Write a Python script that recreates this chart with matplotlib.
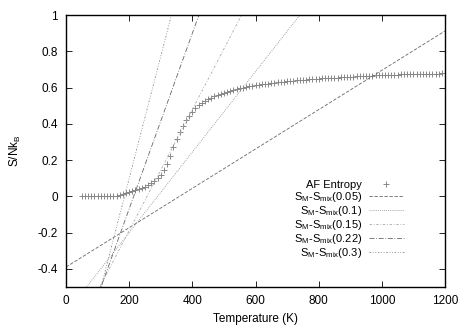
import numpy as np
import matplotlib
matplotlib.use("Agg")
import matplotlib.pyplot as plt

plt.rcParams['font.family'] = ['Liberation Sans', 'DejaVu Sans']
plt.rcParams['mathtext.fontset'] = 'custom'
plt.rcParams['mathtext.rm'] = 'Liberation Sans'
plt.rcParams['mathtext.it'] = 'Liberation Sans'

# AF entropy curve, T in K (step 10 K)
temps = list(range(50, 1201, 10))
entropy = [
    0.0, 0.0, 0.0, 0.0, 0.0, 0.0, 0.0, 0.0, 0.0, 0.0, 0.001,          # 50-150
    0.004, 0.008, 0.013, 0.018, 0.023, 0.028, 0.033, 0.039, 0.046,     # 160-240
    0.054, 0.063, 0.073, 0.085, 0.099, 0.118, 0.145, 0.180, 0.225,     # 250-330
    0.270, 0.315, 0.355, 0.390, 0.420, 0.445, 0.467, 0.486, 0.501,     # 340-420
    0.514, 0.525, 0.535, 0.544, 0.552, 0.559, 0.566, 0.572, 0.577,     # 430-510
    0.582, 0.587, 0.591, 0.595, 0.599, 0.602, 0.606, 0.609, 0.612,     # 520-600
    0.615, 0.617, 0.620, 0.622, 0.624, 0.626, 0.628, 0.630, 0.632,     # 610-690
    0.634, 0.636, 0.638, 0.639, 0.641, 0.642, 0.644, 0.645, 0.647,     # 700-780
    0.648, 0.649, 0.650, 0.651, 0.652, 0.653, 0.654, 0.655, 0.656,     # 790-870
    0.657, 0.658, 0.659, 0.660, 0.661, 0.662, 0.663, 0.664, 0.665,     # 880-960
    0.666, 0.667, 0.667, 0.668, 0.669, 0.669, 0.670, 0.671, 0.671,     # 970-1050
    0.672, 0.672, 0.673, 0.673, 0.674, 0.674, 0.675, 0.675, 0.676,     # 1060-1140
    0.676, 0.677, 0.677, 0.677, 0.678, 0.678,                          # 1150-1200
]

# linear fits S = a + b*T for each mixing fraction
fractions = ['0.05', '0.1', '0.15', '0.22', '0.3']
intercepts = [-0.390, -0.644, -0.857, -1.037, -1.247]
slopes = [0.001085, 0.00222, 0.00334, 0.00484, 0.00673]

line_styles = [(0, (4, 2)), (0, (1, 1.5)), (0, (3, 2, 1, 2)), (0, (6, 2, 1, 2)), (0, (2, 2, 1, 2, 1, 2))]
line_colors = ['#666666', '#888888', '#aaaaaa', '#666666', '#888888']

fig = plt.figure(figsize=(4.67, 3.27), dpi=100)
ax = fig.add_axes([66/467, 1 - 287/327, 379/467, 272/327])

ax.plot(temps, entropy, '+', color='#888888', markersize=4.5, markeredgewidth=0.7,
        label='AF Entropy')

t_line = np.array([0, 1200])
for i in range(len(fractions)):
    ax.plot(t_line, intercepts[i] + slopes[i] * t_line,
            linestyle=line_styles[i], color=line_colors[i], linewidth=0.6,
            label=r'S$_\mathregular{M}$-S$_\mathregular{mix}$(' + fractions[i] + ')')

ax.set_xlim(0, 1200)
ax.set_ylim(-0.5, 1)
ax.set_xticks(range(0, 1201, 200))
ax.set_yticks([-0.4, -0.2, 0, 0.2, 0.4, 0.6, 0.8, 1])
ax.set_yticklabels(['-0.4', '-0.2', '0', '0.2', '0.4', '0.6', '0.8', '1'])
ax.tick_params(direction='in', top=True, right=True, labelsize=8.5, length=4, width=0.6, pad=6)
for s in ax.spines.values():
    s.set_linewidth(1.0)

ax.set_xlabel('Temperature (K)', fontsize=8.5, labelpad=4)
ax.set_ylabel(r'S/Nk$_\mathregular{B}$', fontsize=8.5, labelpad=10)

ax.legend(loc='lower right', bbox_to_anchor=(0.907, 0.08), frameon=False,
          markerfirst=False, fontsize=8, handlelength=3.2, handletextpad=0.6,
          labelspacing=0.0, borderpad=0, numpoints=1)

fig.savefig('out.png', dpi=100)
